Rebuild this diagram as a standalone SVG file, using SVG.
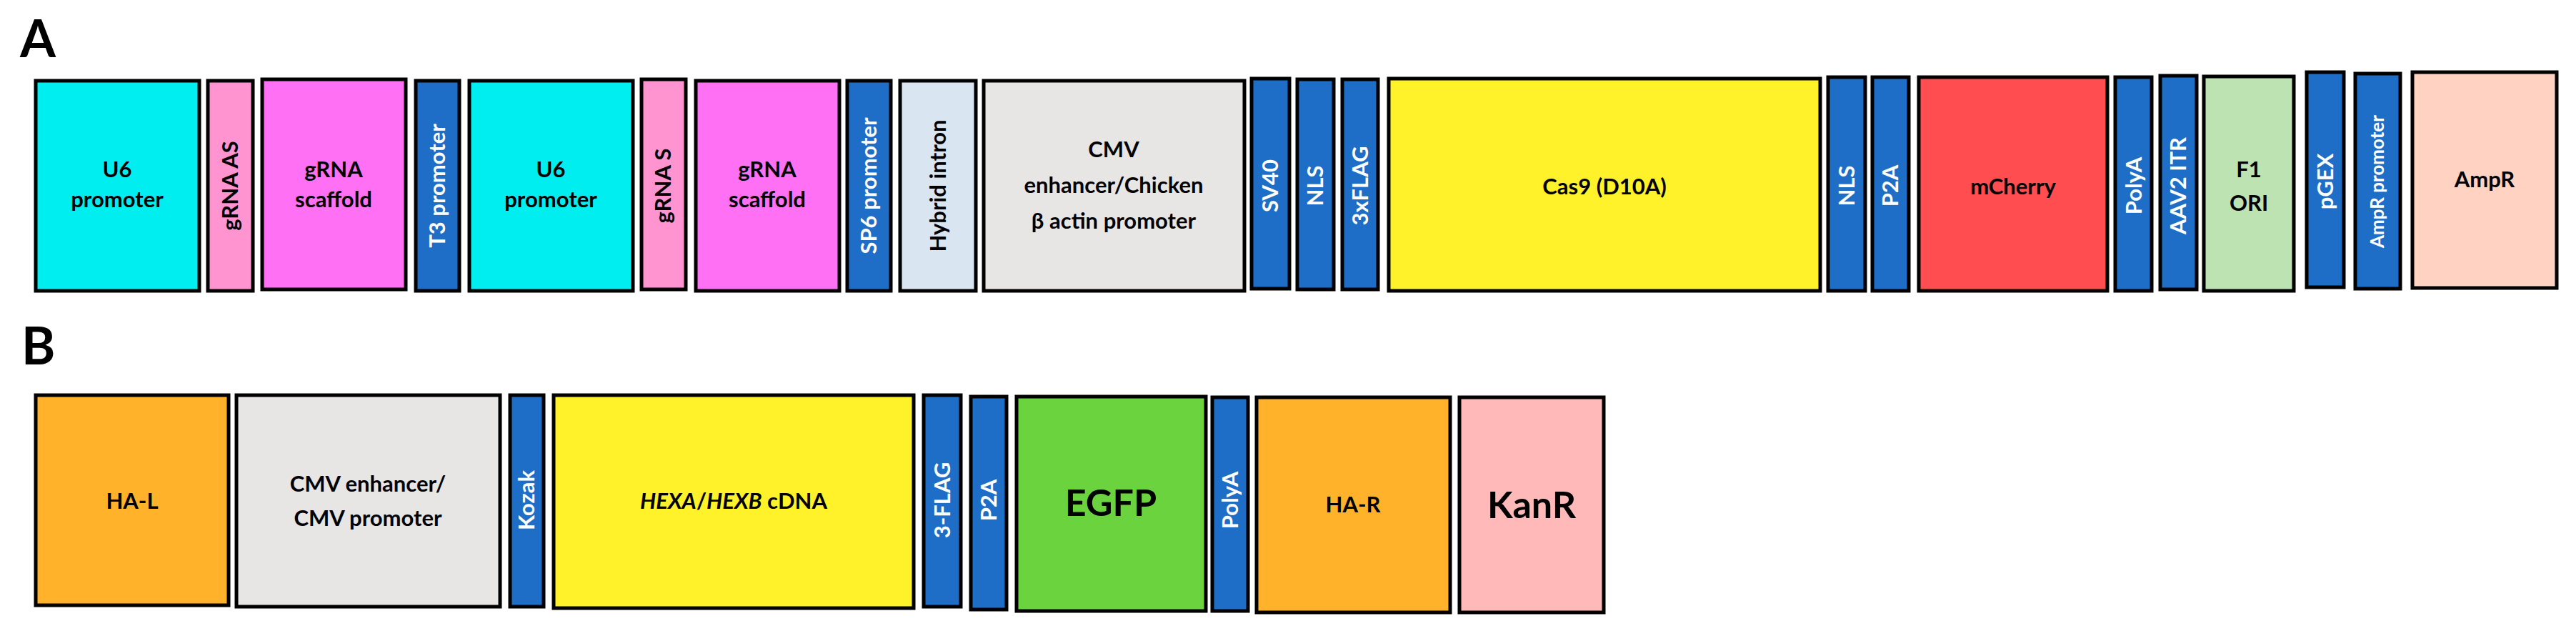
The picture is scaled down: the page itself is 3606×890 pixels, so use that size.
<svg xmlns="http://www.w3.org/2000/svg" width="3606" height="890" viewBox="0 0 3606 890">
<style>
rect{stroke:#000;stroke-width:5}
text{font-family:Lato,"Open Sans","Liberation Sans",sans-serif;font-weight:bold;text-anchor:middle}
.k{font-size:31px;fill:#000}
.w{font-size:31px;fill:#fff}
.big{font-size:52px;fill:#000}
.lbl{font-size:72px;fill:#000;text-anchor:start}
.b{fill:#1e6ec8}
</style>
<text class="lbl" x="28" y="80">A</text>
<text class="lbl" x="30" y="510">B</text>
<g id="a1"><rect x="50" y="113" width="229" height="294" fill="#00eef0"/><text class="k" x="164" y="248">U6</text><text class="k" x="164" y="290">promoter</text></g>
<g id="a2"><rect x="291" y="113" width="63" height="294" fill="#ff94d0"/><text class="k" transform="translate(333,260) rotate(-90)">gRNA AS</text></g>
<g id="a3"><rect x="367" y="111" width="201" height="294" fill="#ff70f5"/><text class="k" x="467" y="248">gRNA</text><text class="k" x="467" y="290">scaffold</text></g>
<g id="a4"><rect x="582" y="113" width="61" height="294" class="b"/><text class="w" transform="translate(623,260) rotate(-90)">T3 promoter</text></g>
<g id="a5"><rect x="657" y="113" width="229" height="294" fill="#00eef0"/><text class="k" x="771" y="248">U6</text><text class="k" x="771" y="290">promoter</text></g>
<g id="a6"><rect x="898" y="111" width="62" height="294" fill="#ff94d0"/><text class="k" transform="translate(939,260) rotate(-90)">gRNA S</text></g>
<g id="a7"><rect x="974" y="113" width="201" height="294" fill="#ff70f5"/><text class="k" x="1074" y="248">gRNA</text><text class="k" x="1074" y="290">scaffold</text></g>
<g id="a8"><rect x="1186" y="113" width="61" height="294" class="b"/><text class="w" transform="translate(1227,260) rotate(-90)">SP6 promoter</text></g>
<g id="a9"><rect x="1260" y="113" width="106" height="294" fill="#dae5f2"/><text class="k" transform="translate(1324,260) rotate(-90)">Hybrid intron</text></g>
<g id="a10"><rect x="1377" y="113" width="365" height="294" fill="#e8e5e5"/><text class="k" x="1559" y="220">CMV</text><text class="k" x="1559" y="270">enhancer/Chicken</text><text class="k" x="1559" y="320">β actin promoter</text></g>
<g id="a11"><rect x="1752" y="110" width="53" height="294" class="b"/><text class="w" transform="translate(1789,260) rotate(-90)">SV40</text></g>
<g id="a12"><rect x="1816" y="111" width="51" height="294" class="b"/><text class="w" transform="translate(1852,260) rotate(-90)">NLS</text></g>
<g id="a13"><rect x="1879" y="111" width="50" height="294" class="b"/><text class="w" transform="translate(1915,260) rotate(-90)">3xFLAG</text></g>
<g id="a14"><rect x="1944" y="110" width="604" height="297" fill="#fff22a"/><text class="k" x="2246" y="272">Cas9 (D10A)</text></g>
<g id="a15"><rect x="2559" y="108" width="52" height="299" class="b"/><text class="w" transform="translate(2596,260) rotate(-90)">NLS</text></g>
<g id="a16"><rect x="2621" y="108" width="51" height="299" class="b"/><text class="w" transform="translate(2657,260) rotate(-90)">P2A</text></g>
<g id="a17"><rect x="2686" y="108" width="264" height="299" fill="#ff4d50"/><text class="k" x="2818" y="272">mCherry</text></g>
<g id="a18"><rect x="2961" y="108" width="51" height="299" class="b"/><text class="w" transform="translate(2998,260) rotate(-90)">PolyA</text></g>
<g id="a19"><rect x="3024" y="106" width="51" height="299" class="b"/><text class="w" transform="translate(3060,260) rotate(-90)">AAV2 ITR</text></g>
<g id="a20"><rect x="3085" y="107" width="126" height="300" fill="#bde3b3"/><text class="k" x="3148" y="248">F1</text><text class="k" x="3148" y="295">ORI</text></g>
<g id="a21"><rect x="3229" y="101" width="52" height="301" class="b"/><text class="w" transform="translate(3266,254) rotate(-90)">pGEX</text></g>
<g id="a22"><rect x="3297" y="103" width="63" height="301" class="b"/><text class="w" style="font-size:26px" transform="translate(3337,254) rotate(-90)">AmpR promoter</text></g>
<g id="a23"><rect x="3377" y="101" width="202" height="302" fill="#ffd2c2"/><text class="k" x="3478" y="262">AmpR</text></g>

<g id="b1"><rect x="50" y="553" width="270" height="294" fill="#ffb22a"/><text class="k" x="185" y="712">HA-L</text></g>
<g id="b2"><rect x="331" y="553" width="369" height="296" fill="#e8e5e5"/><text class="k" x="515" y="688">CMV enhancer/</text><text class="k" x="515" y="736">CMV promoter</text></g>
<g id="b3"><rect x="714" y="553" width="47" height="296" class="b"/><text class="w" transform="translate(748,700) rotate(-90)">Kozak</text></g>
<g id="b4"><rect x="775" y="553" width="504" height="298" fill="#fff22a"/><text class="k" x="1027" y="712"><tspan font-style="italic">HEXA</tspan>/<tspan font-style="italic">HEXB</tspan> cDNA</text></g>
<g id="b5"><rect x="1293" y="553" width="52" height="296" class="b"/><text class="w" transform="translate(1330,700) rotate(-90)">3-FLAG</text></g>
<g id="b6"><rect x="1359" y="555" width="50" height="298" class="b"/><text class="w" transform="translate(1395,700) rotate(-90)">P2A</text></g>
<g id="b7"><rect x="1423" y="555" width="265" height="300" fill="#6ad33e"/><text class="big" x="1555" y="722">EGFP</text></g>
<g id="b8"><rect x="1697" y="556" width="50" height="299" class="b"/><text class="w" transform="translate(1733,700) rotate(-90)">PolyA</text></g>
<g id="b9"><rect x="1759" y="556" width="271" height="301" fill="#ffb22a"/><text class="k" x="1894" y="717">HA-R</text></g>
<g id="b10"><rect x="2043" y="556" width="202" height="301" fill="#ffb9b9"/><text class="big" x="2144" y="725">KanR</text></g>
<g id="connectors"/>
</svg>
